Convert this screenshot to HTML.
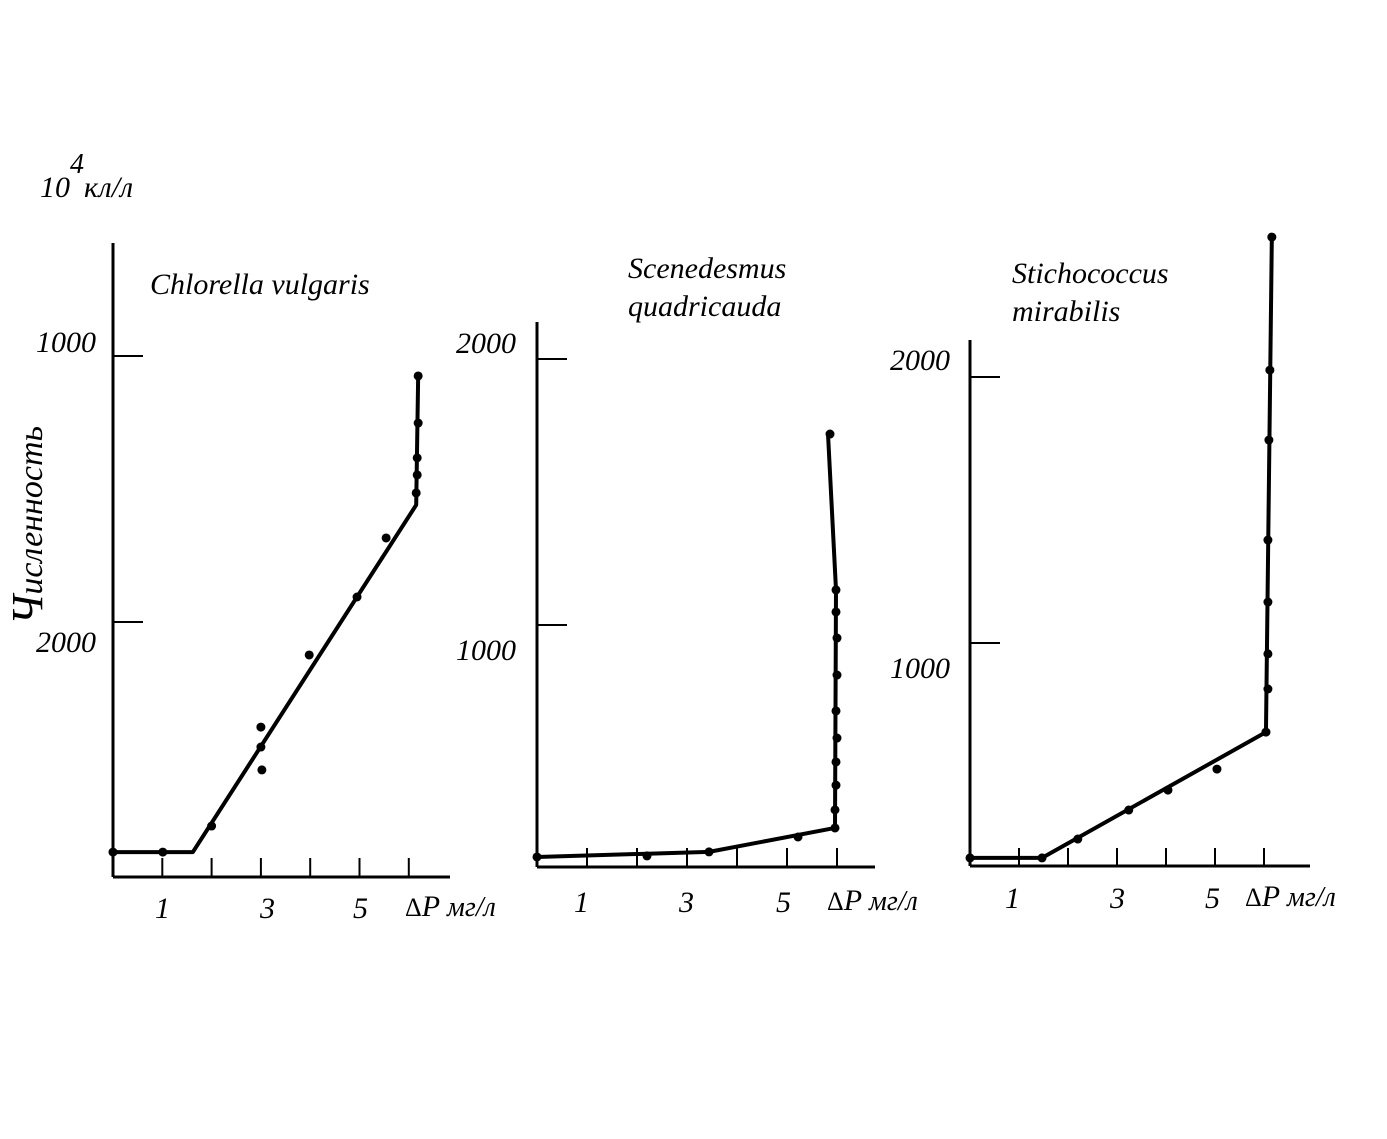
<!DOCTYPE html>
<html><head><meta charset="utf-8"><style>
html,body{margin:0;padding:0;background:#fff}
svg{display:block}
text{font-family:"Liberation Serif","DejaVu Serif",serif;font-style:italic;fill:#000}
</style></head><body>
<svg id="c" width="1387" height="1139" viewBox="0 0 1387 1139">
<text x="40" y="197" font-size="30">10<tspan dy="-24" font-size="28">4</tspan><tspan dy="24" font-size="30">кл/л</tspan></text>
<text transform="translate(42,625) rotate(-90)" font-size="34"><tspan font-size="44">Ч</tspan>исленность</text>
</svg>
<script>
// Panel 1: Chlorella vulgaris
const p1PointsX=[0,1.01,2.0,3.0,3.0,3.02,3.98,4.95,5.54,6.19,6.19,6.17,6.17,6.15];
const p1PointsY=[135,135,233,605,530,444,876,1094,1316,1925,1748,1617,1553,1485];
const p1LineX=[0,1.62,6.15,6.19];
const p1LineY=[135,135,1440,1925];
// Panel 2: Scenedesmus quadricauda
const p2PointsX=[0,2.2,3.44,5.22,5.96,5.96,5.98,5.98,6.0,5.98,6.0,6.0,5.98,5.98,5.86];
const p2PointsY=[128,132,147,203,237,305,398,485,575,677,812,951,1049,1132,1718];
const p2LineX=[0,3.44,5.96,5.98,5.82];
const p2LineY=[128,147,237,1132,1718];
// Panel 3: Stichococcus mirabilis
const p3PointsX=[0,1.47,2.2,3.24,4.04,5.04,6.04,6.08,6.08,6.08,6.08,6.1,6.12,6.16];
const p3PointsY=[192,192,263,372,447,526,665,827,959,1154,1387,1763,2026,2526];
const p3LineX=[0,1.47,6.04,6.16];
const p3LineY=[192,192,665,2526];
const xTickLabels=["1","3","5"];
const xTickVals=[1,3,5];
const yTickVals=[1000,2000];
const yTickLabels=["1000","2000"];
const titles=[["Chlorella vulgaris"],["Scenedesmus","quadricauda"],["Stichococcus","mirabilis"]];

const svg=document.getElementById('c');
const NS='http://www.w3.org/2000/svg';
function mk(tag,attrs,parent){const e=document.createElementNS(NS,tag);for(const k in attrs)e.setAttribute(k,attrs[k]);(parent||svg).appendChild(e);return e;}

const panels=[
 {x0:113,ux:49.3,y0:888,uy:0.266,axTop:243,axY:877,axR:450,tickTop:858,xl:[155,260,353],lblY:918,dp:405,yl:[36,36],ylY:[352,652],title:[[150,294]],px:p1PointsX,py:p1PointsY,lx:p1LineX,ly:p1LineY},
 {x0:537,ux:50,y0:891,uy:0.266,axTop:322,axY:867,axR:875,tickTop:848,xl:[574,679,776],lblY:912,dp:827,yl:[456,456],ylY:[660,353],title:[[628,278],[628,316]],px:p2PointsX,py:p2PointsY,lx:p2LineX,ly:p2LineY},
 {x0:970,ux:49,y0:909,uy:0.266,axTop:340,axY:866,axR:1310,tickTop:848,xl:[1005,1110,1205],lblY:908,dp:1245,yl:[890,890],ylY:[678,370],title:[[1012,283],[1012,321]],px:p3PointsX,py:p3PointsY,lx:p3LineX,ly:p3LineY}
];
panels.forEach((p,i)=>{
 const g=mk('g',{});
 
 
 const sx=v=>p.x0+v*p.ux, sy=v=>p.y0-v*p.uy;
 let a=mk('line',{x1:p.x0,y1:p.axTop,x2:p.x0,y2:p.axY,stroke:'#000','stroke-width':3},g);
 
 a=mk('line',{x1:p.x0,y1:p.axY,x2:p.axR,y2:p.axY,stroke:'#000','stroke-width':3},g);
 
 for(let k=1;k<=6;k++){const t=mk('line',{x1:sx(k),y1:p.tickTop,x2:sx(k),y2:p.axY,stroke:'#000','stroke-width':2},g);
  }
 yTickVals.forEach((v,j)=>{const t=mk('line',{x1:p.x0,y1:sy(v),x2:p.x0+30,y2:sy(v),stroke:'#000','stroke-width':2},g);
  
  const l=mk('text',{x:p.yl[j],y:p.ylY[j],'font-size':30},g);l.textContent=yTickLabels[j];
  });
 xTickVals.forEach((v,j)=>{const l=mk('text',{x:p.xl[j],y:p.lblY,'font-size':30},g);l.textContent=xTickLabels[j];
  });
 const xt=mk('text',{x:p.dp,y:p.lblY-2,'font-size':30},g);
 xt.innerHTML='<tspan font-style="normal" font-size="26">Δ</tspan>P <tspan font-size="28">мг/л</tspan>';
 
 titles[i].forEach((s,j)=>{const t=mk('text',{x:p.title[j][0],y:p.title[j][1],'font-size':30},g);t.textContent=s;
  });
 const pts=p.lx.map((v,j)=>sx(v)+','+sy(p.ly[j])).join(' ');
 const pl=mk('polyline',{points:pts,fill:'none',stroke:'#000','stroke-width':4,'stroke-linejoin':'round'},g);
 
 p.px.forEach((v,j)=>{const c=mk('circle',{cx:sx(v),cy:sy(p.py[j]),r:4.5,fill:'#000'},g);
  });
});
</script>
</body></html>
